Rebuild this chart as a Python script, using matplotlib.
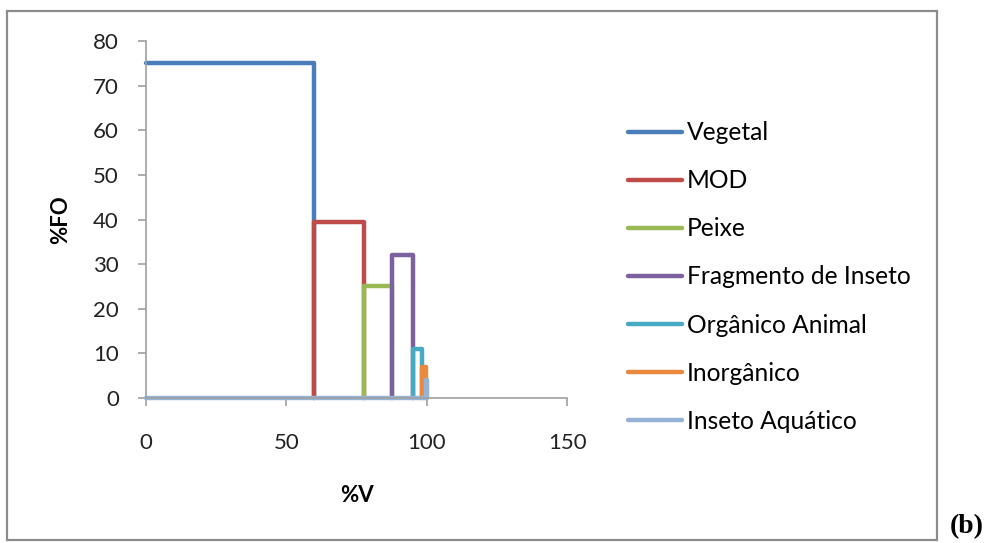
import matplotlib
matplotlib.use("Agg")
import matplotlib.pyplot as plt
from matplotlib.patches import Rectangle

# food items (Costello-type diagram): cumulative %V boundaries and %FO
items = ["Vegetal", "MOD", "Peixe", "Fragmento de Inseto",
         "Orgânico Animal", "Inorgânico", "Inseto Aquático"]
v_start = [0, 60, 77.5, 87.5, 95, 98.3, 99.8]
v_end = [60, 77.5, 87.5, 95, 98.3, 99.8, 100]
fo = [75, 39.5, 25, 32, 11, 7, 4]
colors = ["#4A7EBB", "#BE4B48", "#98B954", "#7D60A0",
          "#46AAC5", "#E8893E", "#95B3D7"]

plt.rcParams['font.family'] = ['Lato', 'DejaVu Sans']

fig = plt.figure(figsize=(9.87, 5.43), dpi=100)
ax = fig.add_axes([0.1479, 0.267, 0.4266, 0.6575])

for i, name in enumerate(items):
    x0, x1, h = v_start[i], v_end[i], fo[i]
    if i == 0:
        xs, ys = [x0, x1, x1], [h, h, 0]
    elif i == len(items) - 1:
        # last series also runs along the base line from 0
        xs, ys = [0, x0, x0, x1, x1], [0, 0, h, h, 0]
    else:
        xs, ys = [x0, x0, x1, x1], [0, h, h, 0]
    ax.plot(xs, ys, color=colors[i], lw=3.2, label=name,
            solid_joinstyle='round', solid_capstyle='round', clip_on=False)

ax.set_xlim(0, 150)
ax.set_ylim(0, 80)
ax.set_xticks([0, 50, 100, 150])
ax.set_yticks(range(0, 90, 10))
for s in ['top', 'right']:
    ax.spines[s].set_visible(False)
for s in ['left', 'bottom']:
    ax.spines[s].set_color('#A0A0A0')
    ax.spines[s].set_linewidth(1.2)
ax.tick_params(colors='#A0A0A0', labelcolor='#222222', length=6, width=1.2,
               labelsize=16)
ax.tick_params(axis='x', pad=19)
ax.tick_params(axis='y', pad=13.5)

ax.set_xlabel('%V', fontsize=16, fontweight='bold', labelpad=23)
ax.set_ylabel('%FO', fontsize=16, fontweight='bold', labelpad=16)

ax.legend(loc='center left', bbox_to_anchor=(0.636, 0.49),
          bbox_transform=fig.transFigure, frameon=False, fontsize=17.7,
          handlelength=2.2, handletextpad=0.2, labelspacing=1.02,
          borderpad=0, borderaxespad=0)

fig.patches.append(Rectangle((0.0071, 0.0055), 0.9422, 0.9742,
                             transform=fig.transFigure, fill=False,
                             edgecolor='#8C8C8C', lw=1.6))
fig.text(0.997, 0.008, '(b)', family='Liberation Serif', fontweight='bold',
         fontsize=20, ha='right', va='bottom')

fig.savefig('out.png', dpi=100)
